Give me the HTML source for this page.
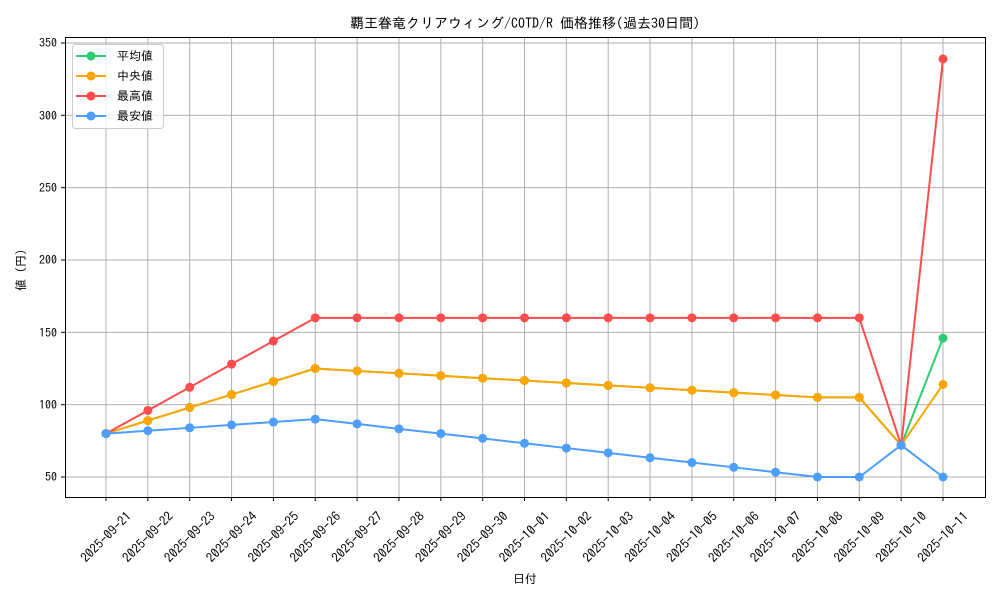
<!DOCTYPE html>
<html><head><meta charset="utf-8"><style>
body{margin:0;background:#fff}
svg text{font-family:"IPAGothic","Noto Sans CJK JP",monospace;fill:#000}
</style></head><body>
<svg id="s" width="1000" height="600" xmlns="http://www.w3.org/2000/svg">
<rect width="1000" height="600" fill="#fff"/>
<g id="grid"></g>
<g id="series"></g>
<rect x="65.5" y="37.5" width="920" height="460" fill="none" stroke="#000" stroke-width="1"/>
<g font-size="12" text-anchor="end">
<text x="57" y="47">350</text><text x="57" y="120">300</text><text x="57" y="192">250</text>
<text x="57" y="264">200</text><text x="57" y="337">150</text><text x="57" y="409">100</text><text x="57" y="481">50</text>
</g>
<g id="xl" font-size="13" text-anchor="middle"></g>
<text x="525" y="583" font-size="12" text-anchor="middle">日付</text>
<text transform="translate(25,270) rotate(-90)" font-size="12" text-anchor="middle">値 (円)</text>
<text x="525" y="28" font-size="14" text-anchor="middle">覇王眷竜クリアウィング/COTD/R 価格推移(過去30日間)</text>
<g>
<rect x="72.5" y="44.5" width="91" height="84" rx="3" fill="#fff" fill-opacity="0.8" stroke="#ccc"/>
<line x1="76" y1="56" x2="106" y2="56" stroke="#2ecc71" stroke-width="2"/><circle cx="91" cy="56" r="4.5" fill="#2ecc71"/>
<line x1="76" y1="76" x2="106" y2="76" stroke="#ffa500" stroke-width="2"/><circle cx="91" cy="76" r="4.5" fill="#ffa500"/>
<line x1="76" y1="96" x2="106" y2="96" stroke="#ff4d4d" stroke-width="2"/><circle cx="91" cy="96" r="4.5" fill="#ff4d4d"/>
<line x1="76" y1="116" x2="106" y2="116" stroke="#4d9eff" stroke-width="2"/><circle cx="91" cy="116" r="4.5" fill="#4d9eff"/>
<g font-size="12"><text x="117" y="60">平均値</text><text x="117" y="80">中央値</text><text x="117" y="100">最高値</text><text x="117" y="120">最安値</text></g>
</g>
</svg>
<div style="display:none" id="labels">2025-09-21|2025-09-22|2025-09-23|2025-09-24|2025-09-25|2025-09-26|2025-09-27|2025-09-28|2025-09-29|2025-09-30|2025-10-01|2025-10-02|2025-10-03|2025-10-04|2025-10-05|2025-10-06|2025-10-07|2025-10-08|2025-10-09|2025-10-10|2025-10-11</div>
<script>
function X(i){return 106+41.85*i}
function Y(v){return 477-(v-50)*1.4467}
var g=document.getElementById('grid'),h='';
for(var i=0;i<21;i++){h+='<line x1="'+X(i)+'" y1="37" x2="'+X(i)+'" y2="497" stroke="#b0b0b0" stroke-width="1"/><line x1="'+X(i)+'" y1="497" x2="'+X(i)+'" y2="501" stroke="#000"/>';}
for(var v=50;v<=350;v+=50){h+='<line x1="65" y1="'+Y(v)+'" x2="985" y2="'+Y(v)+'" stroke="#b0b0b0" stroke-width="1"/><line x1="61" y1="'+Y(v)+'" x2="65" y2="'+Y(v)+'" stroke="#000"/>';}
g.innerHTML=h;
var L=document.getElementById('labels').textContent.split('|'),xl='';
L.forEach(function(t,i){xl+='<text transform="translate('+X(i)+',537) rotate(-45)" dy="4.5">'+t+'</text>';});
document.getElementById('xl').innerHTML=xl;
var dec=[125,123.3,121.7,120,118.3,116.7,115,113.3,111.7,110,108.3,106.7,105,105];
var avg=[80,89,98,107,116].concat(dec,[72,146]);
var med=[80,89,98,107,116].concat(dec,[72,114]);
var mx=[80,96,112,128,144,160,160,160,160,160,160,160,160,160,160,160,160,160,160,72,339];
var mn=[80,82,84,86,88,90,86.7,83.3,80,76.7,73.3,70,66.7,63.3,60,56.7,53.3,50,50,72,50];
var S=[[avg,'#2ecc71'],[med,'#ffa500'],[mx,'#ff4d4d'],[mn,'#4d9eff']],o='';
S.forEach(function(s){var p=s[0].map(function(v,i){return X(i)+','+Y(v)}).join(' ');
o+='<polyline points="'+p+'" fill="none" stroke="'+s[1]+'" stroke-width="2"/>';
s[0].forEach(function(v,i){o+='<circle cx="'+X(i)+'" cy="'+Y(v)+'" r="4.5" fill="'+s[1]+'"/>'});});
document.getElementById('series').innerHTML=o;
</script>
</body></html>
